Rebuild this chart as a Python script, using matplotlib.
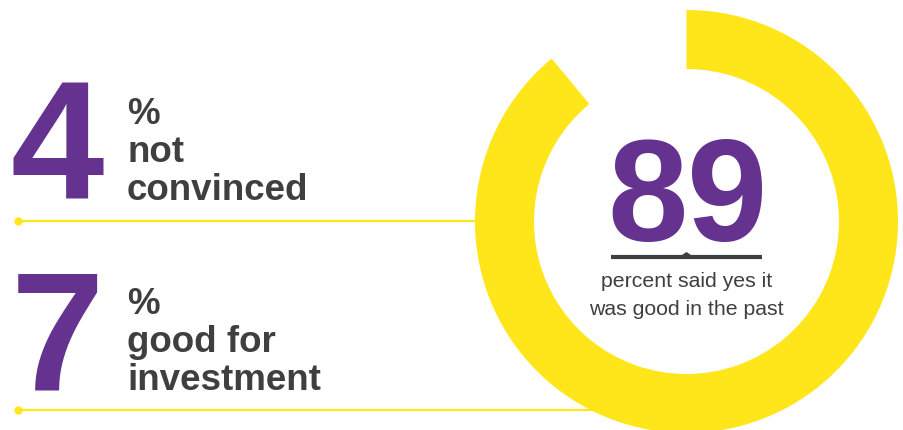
import matplotlib.pyplot as plt
from matplotlib.patches import Polygon

W, H = 904, 430

# figures
share_yes = 89
share_rest = 100 - share_yes
side_values = [4, 7]
side_labels = ["not\nconvinced", "good for\ninvestment"]
caption = "percent said yes it\nwas good in the past"

PURPLE = "#65338F"
YELLOW = "#FFE61A"
GREY = "#3F3F3F"


def Y(y):
    # pixel rows counted from the top
    return H - y


fig = plt.figure(figsize=(W / 100, H / 100), dpi=100)
ax = fig.add_axes([0, 0, 1, 1])

# ring
cx, cy, r_out, r_in = 686.5, Y(221.5), 211.5, 152.5
ax.pie([share_yes, share_rest], colors=[YELLOW, "none"], startangle=90,
       counterclock=False, center=(cx, cy), radius=r_out,
       wedgeprops=dict(width=r_out - r_in, linewidth=0, zorder=2), frame=True)
ax.set_xlim(0, W)
ax.set_ylim(0, H)
ax.set_aspect("equal")
ax.axis("off")

# divider lines with a dot at the left end, running up to the ring
for y, x_end in ((221, 477), (410, 620)):
    ax.plot([18, x_end], [Y(y), Y(y)], color=YELLOW, lw=1.6, zorder=1,
            solid_capstyle="butt")
    ax.plot(18, Y(y), "o", color=YELLOW, ms=5, zorder=1)

# left stats
font = "Liberation Sans"
bases = [200, 390]
for val, lab, base in zip(side_values, side_labels, bases):
    ax.text(11, Y(base), str(val), fontsize=121, fontweight="bold",
            color=PURPLE, family=font, va="baseline", ha="left", zorder=3)
    lines = ["%"] + lab.split("\n")
    for i, ln in enumerate(lines):
        ax.text(127, Y(base - 76 + 38 * i), ln, fontsize=26.5, fontweight="bold",
                color=GREY, family=font, va="baseline", ha="left", zorder=3)

# centre number, digits set a little tighter than the font's spacing
num = str(share_yes)
ax.text(cx - 39, Y(241), num[0], fontsize=104, fontweight="bold",
        color=PURPLE, family=font, va="baseline", ha="center", zorder=3)
ax.text(cx + 41, Y(241), num[1], fontsize=104, fontweight="bold",
        color=PURPLE, family=font, va="baseline", ha="center", zorder=3)
ax.plot([611, 762], [Y(257), Y(257)], color=GREY, lw=3, zorder=3,
        solid_capstyle="butt")
ax.add_patch(Polygon([[cx - 6, Y(256)], [cx, Y(252)], [cx + 6, Y(256)]],
                     closed=True, color=GREY, lw=0, zorder=3))
for i, ln in enumerate(caption.split("\n")):
    ax.text(cx, Y(287 + 28 * i), ln, fontsize=15.3, color=GREY, family=font,
            va="baseline", ha="center", zorder=3)

fig.savefig("out.png", dpi=100, facecolor="white")
